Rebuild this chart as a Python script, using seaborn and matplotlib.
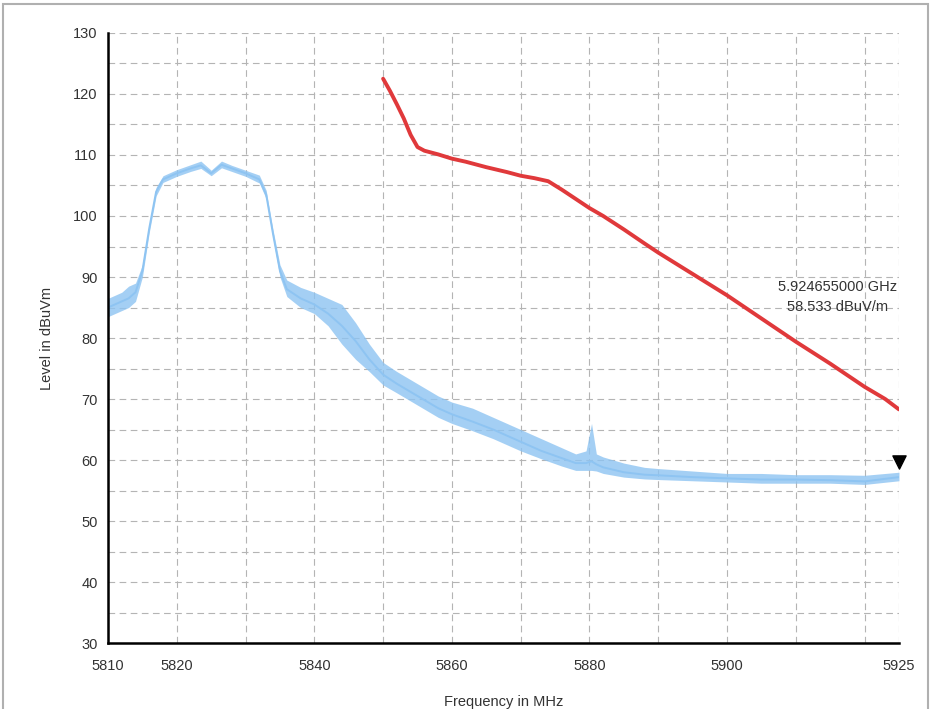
import matplotlib
matplotlib.use("Agg")
import matplotlib.pyplot as plt
import pandas as pd
import seaborn as sns
from matplotlib.patches import Rectangle

blue_freq = [5810, 5811, 5812, 5813, 5814, 5815, 5816, 5817, 5818, 5820,
             5822, 5823.5, 5825, 5826.5, 5828, 5830, 5832, 5833, 5834, 5835,
             5836, 5838, 5840, 5842, 5844, 5846, 5848, 5850, 5852, 5855,
             5858, 5860, 5863, 5866, 5870, 5873, 5876, 5878, 5879.5, 5880.3,
             5881, 5882, 5885, 5888, 5890, 5895, 5900, 5905, 5910, 5915,
             5920, 5925]
blue_level = [85, 85.5, 86, 86.5, 87.5, 91, 98, 104, 106, 107,
              107.8, 108.3, 107, 108.4, 107.8, 107, 106, 103.5, 97, 91,
              88, 86.5, 85.5, 84, 82, 79.5, 76.5, 74, 72.5, 70.5,
              68.5, 67.5, 66.3, 65, 63, 61.5, 60.3, 59.5, 59.5, 59.8,
              59.3, 58.8, 58, 57.6, 57.5, 57.2, 57, 56.8, 56.8, 56.7,
              56.5, 57.2]
blue_low = [83.5, 84, 84.5, 85, 86, 90, 97.3, 103.3, 105.5, 106.5,
            107.3, 107.8, 106.6, 107.9, 107.3, 106.5, 105.4, 102.8, 96.3, 90,
            86.8, 85, 84, 82, 79, 76.5, 74.5, 72.3, 71, 69,
            67, 66, 64.8, 63.5, 61.5, 60.2, 59, 58.3, 58.3, 58.3,
            58.2, 57.8, 57.2, 56.9, 56.8, 56.6, 56.4, 56.2, 56.2, 56.2,
            56, 56.6]
blue_high = [86.5, 87, 87.5, 88.5, 89, 92, 98.7, 104.7, 106.6, 107.6,
             108.4, 109, 107.5, 109, 108.3, 107.5, 106.7, 104.2, 97.7, 92,
             89.5, 88.3, 87.5, 86.5, 85.5, 82.5, 79, 76, 74.5, 72.5,
             70.5, 69.5, 68.5, 67, 65, 63.5, 62, 61, 61.5, 66,
             61, 60.5, 59.5, 58.8, 58.6, 58.2, 57.8, 57.8, 57.6, 57.6,
             57.5, 58]

# red trace (limit / reference line)
red_freq = [5850, 5851, 5852, 5853, 5854, 5855, 5856, 5858, 5860, 5862,
            5865, 5868, 5870, 5872, 5874, 5876, 5878, 5880, 5882, 5885,
            5888, 5890, 5895, 5900, 5905, 5910, 5915, 5920, 5923, 5925]
red_level = [122.5, 120.5, 118.3, 116, 113.3, 111.3, 110.7, 110.1, 109.4, 108.9,
             108, 107.2, 106.6, 106.2, 105.7, 104.3, 102.8, 101.3, 100, 97.8,
             95.5, 94, 90.5, 87, 83.2, 79.4, 75.8, 72, 70, 68.3]

x_ticks = [5810, 5820, 5830, 5840, 5850, 5860, 5870, 5880, 5890, 5900, 5910, 5920, 5925]
x_labels = ["5810", "5820", "", "5840", "", "5860", "", "5880", "", "5900", "", "", "5925"]
y_ticks = list(range(30, 135, 5))
y_labels = [str(v) if v % 10 == 0 else "" for v in y_ticks]

marker_freq = 5925
marker_level = 59.7
marker_text = "5.924655000 GHz\n58.533 dBuV/m"

BLUE = "#8ec4f2"
RED = "#e0393b"
GRID = "#b4b4b4"
TEXT = "#333333"

sns.set_theme(style="white")
plt.rcParams["font.family"] = ["Liberation Sans", "DejaVu Sans"]

blue_df = pd.DataFrame({"freq": blue_freq, "level": blue_level})
red_df = pd.DataFrame({"freq": red_freq, "level": red_level})

fig = plt.figure(figsize=(9.31, 7.09), dpi=100)
ax = fig.add_axes([0.116, 0.093, 0.8496, 0.8605])

ax.fill_between(blue_freq, blue_low, blue_high, color=BLUE, alpha=0.8, linewidth=0)
sns.lineplot(data=blue_df, x="freq", y="level", color=BLUE, linewidth=1.4, ax=ax)
sns.lineplot(data=red_df, x="freq", y="level", color=RED, linewidth=2.8, ax=ax)
ax.scatter([marker_freq], [marker_level], marker="v", s=90, color="black", zorder=5, clip_on=False)
ax.text(5916, 86.8, marker_text, ha="center", va="center", multialignment="center",
        fontsize=10.5, color=TEXT, linespacing=1.55)

ax.set_xlim(5810, 5925)
ax.set_ylim(30, 130)
ax.set_xticks(x_ticks)
ax.set_xticklabels(x_labels)
ax.set_yticks(y_ticks)
ax.set_yticklabels(y_labels)
ax.tick_params(axis="both", direction="inout", length=9, width=1.5, color="black",
               labelsize=10.5, labelcolor=TEXT, pad=3)
ax.tick_params(axis="x", pad=7)

ax.grid(True, color=GRID, linestyle=(0, (6, 4)), linewidth=0.8)
for side in ["top", "right"]:
    ax.spines[side].set_visible(False)
for side in ["left", "bottom"]:
    ax.spines[side].set_color("black")
    ax.spines[side].set_linewidth(1.8)

ax.set_xlabel("Frequency in MHz", fontsize=10.5, color=TEXT, labelpad=16)
ax.set_ylabel("Level in dBuVm", fontsize=10.5, color=TEXT, labelpad=14)

fig.patches.append(Rectangle((0.003, -0.01), 0.994, 1.005, transform=fig.transFigure,
                             fill=False, edgecolor="#b0b0b0", linewidth=1.5))

fig.savefig("out.png", dpi=100)
